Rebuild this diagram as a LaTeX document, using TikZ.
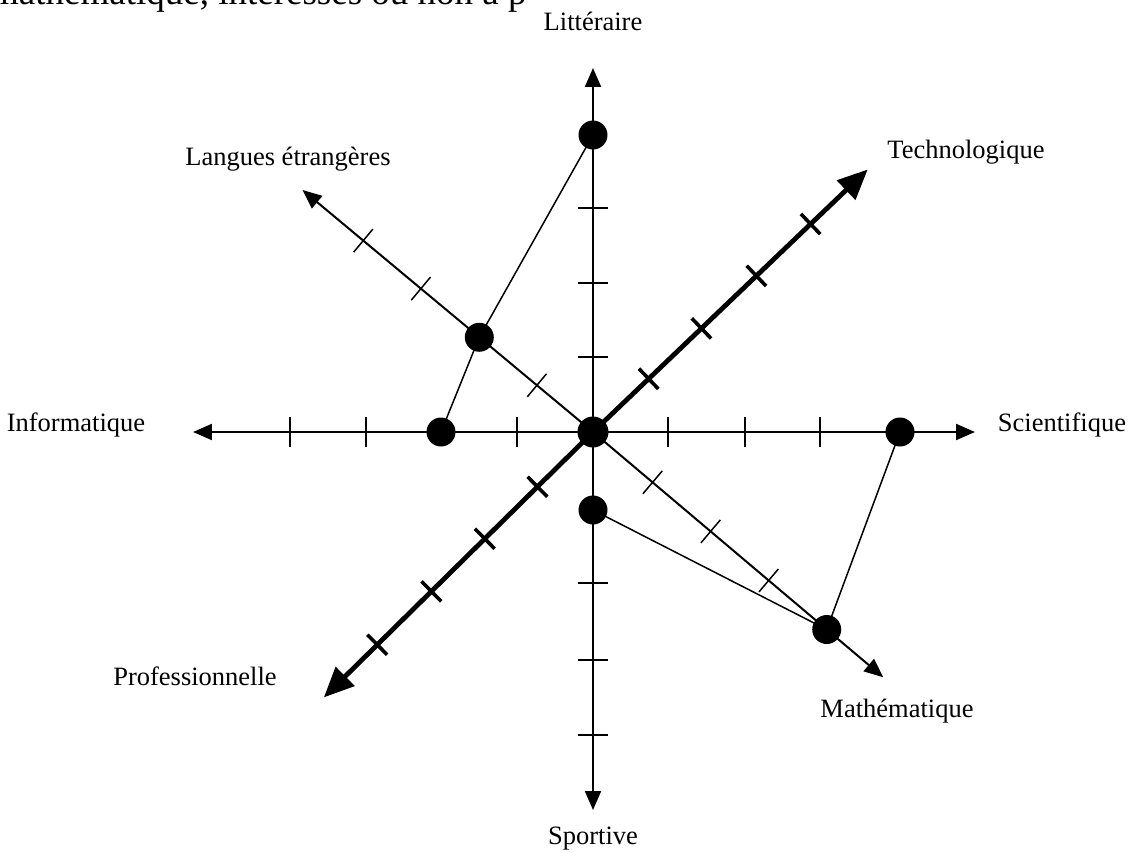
\documentclass[tikz,border=0pt]{standalone}
\usepackage{fontspec}
\setmainfont{Liberation Serif}
\usetikzlibrary{arrows.meta}
\begin{document}
\begin{tikzpicture}[x=1pt,y=1pt,
  thinaxis/.style={line width=2pt,-{Triangle[length=19pt,width=16pt]}},
  thickaxis/.style={line width=4.8pt,-{Triangle[length=30pt,width=26pt]}},
  thintick/.style={line width=1.5pt},
  thicktick/.style={line width=3.6pt},
  dot/.style={circle,fill=black,inner sep=0pt,minimum size=29pt},
  link/.style={line width=1.5pt},
  lbl/.style={font=\fontsize{26.5}{32}\selectfont,anchor=base,inner sep=0pt}]
\useasboundingbox (-593,-420) rectangle (539,432);
\clip (-593,-420) rectangle (539,432);
\fill[white] (-593,-420) rectangle (539,432);
% top clipped text line
\node[anchor=base west,inner sep=0pt,font=\fontsize{37}{44}\selectfont] (toptext) at (-603,427) {mathématique, intéressés ou non à p};
% centre
\node[circle,fill=black,inner sep=0pt,minimum size=31pt] (C) at (0,0) {};
% axis tips
\coordinate (tLit) at (90:364);
\coordinate (tSpo) at (270:378);
\coordinate (tSci) at (0:382);
\coordinate (tInf) at (180:400);
\coordinate (tTec) at (43.7:380);
\coordinate (tLan) at (140.2:378);
\coordinate (tPro) at (224.6:378);
\coordinate (tMat) at (319.8:380);
% axes
\draw[thinaxis] (C.center) -- (tLit);
\draw[thinaxis] (C.center) -- (tSpo);
\draw[thinaxis] (C.center) -- (tSci);
\draw[thinaxis] (C.center) -- (tInf);
\draw[thinaxis] (C.center) -- (tLan);
\draw[thinaxis] (C.center) -- (tMat);
\draw[thickaxis] (C.center) -- (tTec);
\draw[thickaxis] (C.center) -- (tPro);
% ticks
\foreach \d in {75,149,224} \draw[thintick,rotate=90] (\d,-15) -- (\d,15);
\foreach \d in {151,228,303} \draw[thintick,rotate=270] (\d,-15) -- (\d,15);
\foreach \d in {75,152,227} \draw[thintick] (\d,-15) -- (\d,15);
\foreach \d in {76,227,303} \draw[thintick,rotate=180] (\d,-15) -- (\d,15);
\foreach \d in {73,224,299} \draw[thintick,rotate=140.2] (\d,-15) -- (\d,15);
\foreach \d in {78,154,230} \draw[thintick,rotate=319.8] (\d,-15) -- (\d,15);
\foreach \d in {77,150,226,301} \draw[thicktick,rotate=43.7] (\d,-14) -- (\d,14);
\foreach \d in {78,152,227,303} \draw[thicktick,rotate=224.6] (\d,-14) -- (\d,14);
% value dots
\node[dot] (dLit) at (90:297) {};
\node[dot] (dSpo) at (270:78) {};
\node[dot] (dSci) at (0:307) {};
\node[dot] (dInf) at (180:152) {};
\node[dot] (dLan) at (140.2:148) {};
\node[dot] (dMat) at (319.8:306) {};
% profile links
\draw[link] (dLit.center) -- (dLan.center) -- (dInf.center);
\draw[link] (dSpo.center) -- (dMat.center) -- (dSci.center);
% labels
\node[lbl] (lLit) at (0,401) {Littéraire};
\node[lbl] (lLan) at (-305,266) {Langues étrangères};
\node[lbl] (lTec) at (373,273) {Technologique};
\node[lbl] (lInf) at (-517,1) {Informatique};
\node[lbl] (lSci) at (469,1) {Scientifique};
\node[lbl] (lPro) at (-398,-253) {Professionnelle};
\node[lbl] (lMat) at (304,-285) {Mathématique};
\node[lbl] (lSpo) at (0,-412) {Sportive};
\end{tikzpicture}
\end{document}
